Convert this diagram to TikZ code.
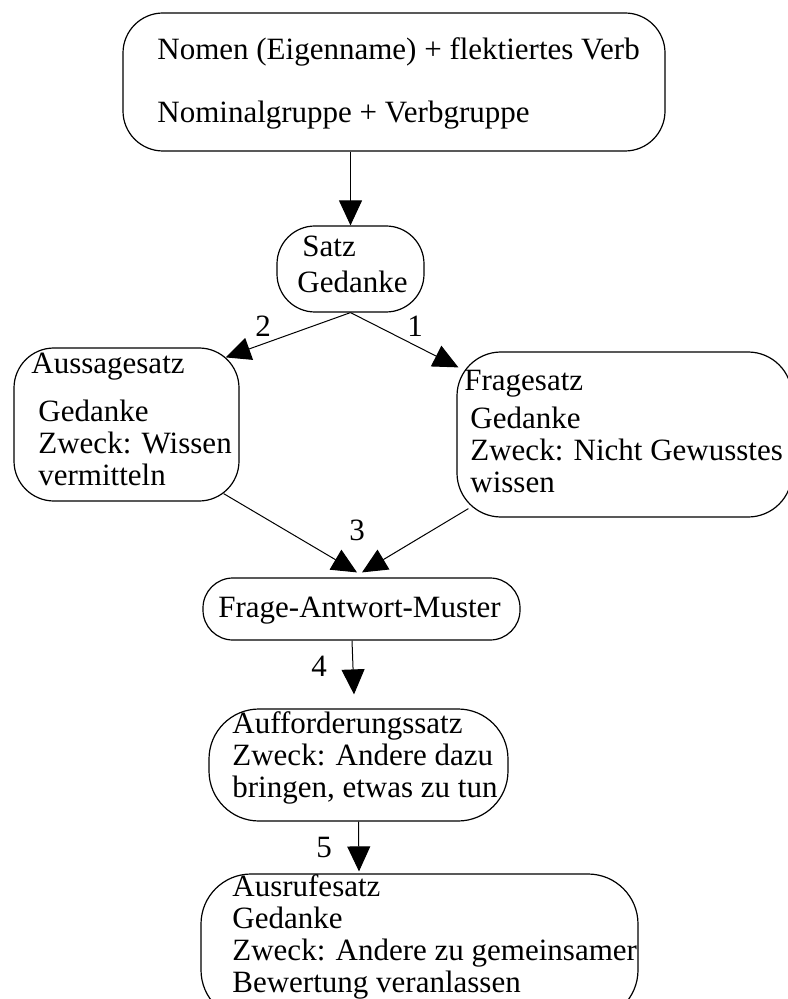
\documentclass[tikz,border=0pt]{standalone}
\usepackage{fontspec}
\setmainfont{Liberation Serif}
\usetikzlibrary{positioning,calc,arrows.meta}

\begin{document}
\begin{tikzpicture}[x=0.5pt,y=-0.5pt,
	box/.style={draw, rounded corners=20pt, line width=0.6pt, inner sep=0pt},
	txt/.style={anchor=base west, inner sep=0pt, align=left, font=\fontsize{15.5}{16}\selectfont},
	num/.style={anchor=base, inner sep=0pt, font=\fontsize{15.5}{16}\selectfont},
	arr/.style={line width=0.5pt, -{Triangle[length=12.5pt,width=11.5pt]}}]
			\useasboundingbox (0,0) rectangle (787,999);
			
			% boxes
			\node[box, minimum width=271pt, minimum height=69pt] (top) at (394,82) {};
			\node[box, rounded corners=19pt, minimum width=73.5pt, minimum height=43pt] (satz) at (350.5,269) {};
			\node[box, minimum width=112.5pt, minimum height=76.5pt] (aus) at (126.5,424.5) {};
			\node[box, rounded corners=22pt, minimum width=167.5pt, minimum height=82.5pt] (fr) at (624.5,434.5) {};
			\node[box, rounded corners=15pt, minimum width=158.5pt, minimum height=31pt] (fam) at (361.5,609) {};
			\node[box, rounded corners=25pt, minimum width=149.5pt, minimum height=56pt] (auf) at (358.5,765) {};
			\node[box, rounded corners=25pt, minimum width=218.5pt, minimum height=73pt] (ausr) at (419.5,947) {};
			
			% texts (anchored at the baseline of the last line)
			\node[txt] (topA) at (157,123) {Nomen (Eigenname) + flektiertes Verb\\[15.5pt]Nominalgruppe + Verbgruppe};
			\node[txt] (satzA) at (302,257) {Satz};
			\node[txt] (satzB) at (297,293) {Gedanke};
			\node[txt] (ausA) at (31,373) {Aussagesatz};
			\node[txt] (ausB) at (38,485) {Gedanke\\Zweck: Wissen\\vermitteln};
			\node[txt] (frA) at (464,390) {Fragesatz};
			\node[txt] (frB) at (470,492) {Gedanke\\Zweck: Nicht Gewusstes\\wissen};
			\node[txt] (famA) at (218,617) {Frage-Antwort-Muster};
			\node[txt] (aufA) at (232,797) {Aufforderungssatz\\Zweck: Andere dazu\\bringen, etwas zu tun};
			\node[txt] (ausrA) at (232,992) {Ausrufesatz\\Gedanke\\Zweck: Andere zu gemeinsamer\\Bewertung veranlassen};
			
			% arrows
			\draw[arr] (satz.north |- top.south) -- (satz.north);
			\draw[arr] (satz.south) -- ($(aus.north east)+(-14,10)$);
			\draw[arr] (satz.south) -- ($(fr.north west)+(2,16)$);
			\draw[arr] ($(aus.south east)+(-16,-8)$) -- ($(fam.north)+(-4.5,-5)$);
			\draw[arr] ($(fr.south west)+(12,-9)$) -- ($(fam.north)+(0.5,-5)$);
			\draw[arr] ($(fam.south)+(-9.5,0)$) -- ($(auf.north)+(-4.5,-14)$);
			\draw[arr] (auf.south) -- ($(ausr.north)+(-60.5,-2)$);
			
			% numbers
			\node[num] (n1) at (415,337) {1};
			\node[num] (n2) at (263,337) {2};
			\node[num] (n3) at (357,540) {3};
			\node[num] (n4) at (319,676) {4};
			\node[num] (n5) at (324,857) {5};
			
\end{tikzpicture}
\end{document}
